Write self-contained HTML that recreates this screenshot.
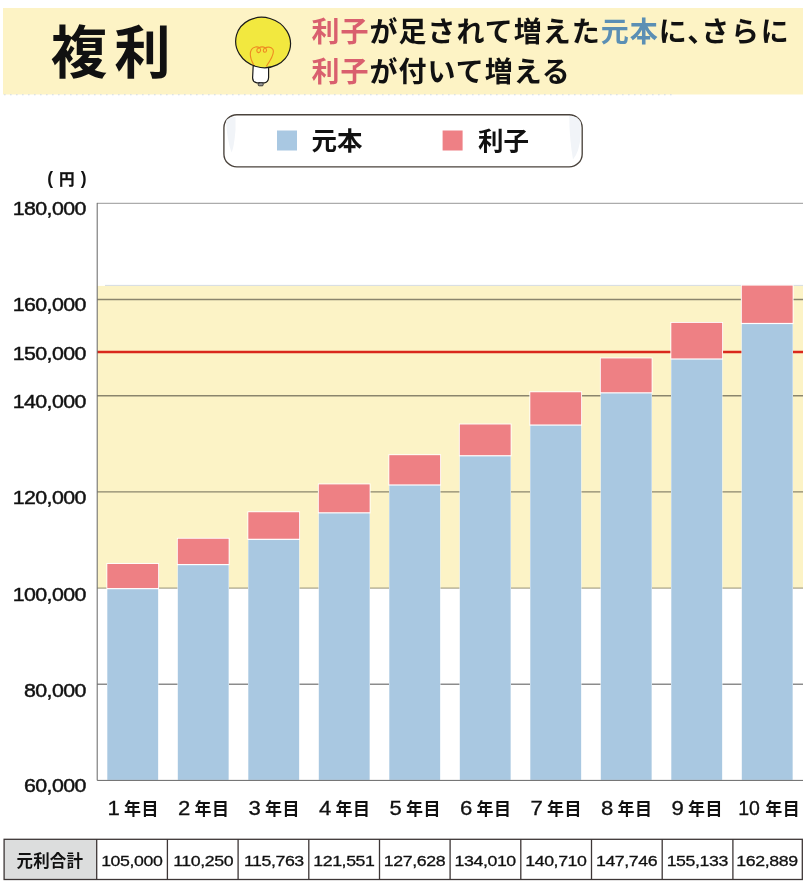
<!DOCTYPE html>
<html lang="ja"><head><meta charset="utf-8"><title>複利</title>
<style>html,body{margin:0;padding:0;background:#fff}svg{display:block;will-change:transform}text{font-family:"Liberation Sans","Noto Sans CJK JP",sans-serif;fill:#111}.b{font-weight:700}.m{font-weight:500}</style></head><body>
<svg width="807" height="891" viewBox="0 0 807 891">
<rect width="807" height="891" fill="#fff"/>
<rect x="3" y="8" width="800" height="86.5" fill="#FDF3C5"/>
<line x1="4" x2="674" y1="94.8" y2="94.8" stroke="#d3dae2" stroke-width="1.1" stroke-dasharray="1.6 4.4"/>
<text class="b" x="50.7" y="73.2" font-size="56.5" letter-spacing="7" fill="#000">複利</text>
<g stroke-linecap="round" stroke-linejoin="round">
<path d="M253.2 65.6 L252.6 78 Q252.8 82.2 257 82.8 L264.5 82.8 Q268.4 82 268.6 77.5 L268.6 66 Z" fill="#fff" stroke="#1a1a1a" stroke-width="1.2"/>
<rect x="258.2" y="82.8" width="5" height="3" rx="1" fill="#999" stroke="#1a1a1a" stroke-width="0.8"/>
<ellipse cx="263.1" cy="42.5" rx="27.6" ry="25.0" transform="rotate(16 263.1 42.5)" fill="#F2E83F" stroke="#1a1a1a" stroke-width="1.2"/>
<path d="M253.5 64.5 C250 58 249.5 53 251.5 49.5 C253.5 46.5 257.5 46.3 259.5 47.8 C261.5 49.5 260.5 52.8 258.3 52.6 C256.3 52.3 256.3 49 258.3 48.2 C260.5 46.8 263.5 46.6 265.3 48 C267.3 49.6 266.6 52.3 264.8 52.2 C262.8 52 262.8 49 264.8 48.2 C267 46.6 271 46.6 272.8 49.2 C274.8 52.5 272.5 57.5 266.5 66" fill="none" stroke="#EE8A22" stroke-width="1.1"/>
</g>
<text class="b" x="311.5" y="42.0" font-size="28.0" letter-spacing="1.00"><tspan fill="#D95F6E">利子</tspan>が足されて増えた<tspan fill="#5B8FB4">元本</tspan>に</text>
<text class="b" x="687.3" y="42" font-size="28.0">、</text>
<text class="b" x="701.2" y="42" font-size="28.0" letter-spacing="1.8">さらに</text>
<text class="b" x="311.5" y="82.0" font-size="28.0" letter-spacing="1.00"><tspan fill="#D95F6E">利子</tspan>が付いて増える</text>
<rect x="223.9" y="114.7" width="358.3" height="52.2" rx="13" ry="13" fill="#fff" stroke="#4a433c" stroke-width="1.35"/>
<path d="M226 121 Q229 116.5 235.5 117 L235.5 130 Q234 148 231.5 152.5 Q227 140 226 121 Z" fill="#f1f4f8"/>
<path d="M569.2 116 Q577.5 115.5 580.7 122 L580.7 135 Q579.5 152 573 159.5 Q569.5 140 569.2 116 Z" fill="#f1f4f8"/>
<rect x="277" y="130.5" width="20" height="20" fill="#A9C8E2"/>
<text class="b" x="311.5" y="150" font-size="25.5">元本</text>
<rect x="442.6" y="130.5" width="20" height="20" fill="#EE8085"/>
<text class="b" x="478" y="150" font-size="25.5">利子</text>
<rect x="97.2" y="285.9" width="705.8" height="302.1" fill="#FCF3C6"/>
<line x1="105" x2="803.0" y1="285.4" y2="285.4" stroke="#c3cbd6" stroke-width="0.7"/>
<line x1="97.2" x2="803.0" y1="588.1" y2="588.1" stroke="#8a8468" stroke-width="0.9"/>
<line x1="97.2" x2="803.0" y1="299.5" y2="299.5" stroke="#000" stroke-opacity="0.45" stroke-width="1.35"/>
<line x1="97.2" x2="803.0" y1="395.7" y2="395.7" stroke="#000" stroke-opacity="0.45" stroke-width="1.35"/>
<line x1="97.2" x2="803.0" y1="491.9" y2="491.9" stroke="#000" stroke-opacity="0.45" stroke-width="1.35"/>
<line x1="97.2" x2="803.0" y1="684.2" y2="684.2" stroke="#000" stroke-opacity="0.45" stroke-width="1.35"/>
<line x1="97.2" x2="803.0" y1="352" y2="352" stroke="#D9281C" stroke-width="2.6"/>
<line x1="97.2" x2="803.0" y1="203.3" y2="203.3" stroke="#8c8c8c" stroke-width="0.9"/>
<line x1="97.2" x2="97.2" y1="202.9" y2="780.4" stroke="#666" stroke-width="1"/>
<rect x="106.40" y="563.09" width="52.65" height="26.15" fill="#fff"/>
<rect x="107.00" y="588.03" width="51.45" height="191.87" fill="#fff"/>
<rect x="107.30" y="589.23" width="50.85" height="190.67" fill="#A9C8E1"/>
<rect x="107.30" y="563.99" width="50.85" height="24.05" fill="#EE8084"/>
<rect x="176.90" y="537.84" width="52.65" height="27.35" fill="#fff"/>
<rect x="177.50" y="563.99" width="51.45" height="215.91" fill="#fff"/>
<rect x="177.80" y="565.19" width="50.85" height="214.71" fill="#A9C8E1"/>
<rect x="177.80" y="538.74" width="50.85" height="25.25" fill="#EE8084"/>
<rect x="247.40" y="511.33" width="52.65" height="28.61" fill="#fff"/>
<rect x="248.00" y="538.74" width="51.45" height="241.16" fill="#fff"/>
<rect x="248.30" y="539.94" width="50.85" height="239.96" fill="#A9C8E1"/>
<rect x="248.30" y="512.23" width="50.85" height="26.51" fill="#EE8084"/>
<rect x="317.90" y="483.49" width="52.65" height="29.94" fill="#fff"/>
<rect x="318.50" y="512.23" width="51.45" height="267.67" fill="#fff"/>
<rect x="318.80" y="513.43" width="50.85" height="266.47" fill="#A9C8E1"/>
<rect x="318.80" y="484.39" width="50.85" height="27.84" fill="#EE8084"/>
<rect x="388.40" y="454.27" width="52.65" height="31.33" fill="#fff"/>
<rect x="389.00" y="484.39" width="51.45" height="295.51" fill="#fff"/>
<rect x="389.30" y="485.59" width="50.85" height="294.31" fill="#A9C8E1"/>
<rect x="389.30" y="455.17" width="50.85" height="29.23" fill="#EE8084"/>
<rect x="458.90" y="423.57" width="52.65" height="32.79" fill="#fff"/>
<rect x="459.50" y="455.17" width="51.45" height="324.73" fill="#fff"/>
<rect x="459.80" y="456.37" width="50.85" height="323.53" fill="#A9C8E1"/>
<rect x="459.80" y="424.47" width="50.85" height="30.69" fill="#EE8084"/>
<rect x="529.40" y="391.35" width="52.65" height="34.32" fill="#fff"/>
<rect x="530.00" y="424.47" width="51.45" height="355.43" fill="#fff"/>
<rect x="530.30" y="425.67" width="50.85" height="354.23" fill="#A9C8E1"/>
<rect x="530.30" y="392.25" width="50.85" height="32.22" fill="#EE8084"/>
<rect x="599.90" y="357.51" width="52.65" height="35.94" fill="#fff"/>
<rect x="600.50" y="392.25" width="51.45" height="387.65" fill="#fff"/>
<rect x="600.80" y="393.45" width="50.85" height="386.45" fill="#A9C8E1"/>
<rect x="600.80" y="358.41" width="50.85" height="33.84" fill="#EE8084"/>
<rect x="670.40" y="321.99" width="52.65" height="37.63" fill="#fff"/>
<rect x="671.00" y="358.41" width="51.45" height="421.49" fill="#fff"/>
<rect x="671.30" y="359.61" width="50.85" height="420.29" fill="#A9C8E1"/>
<rect x="671.30" y="322.89" width="50.85" height="35.53" fill="#EE8084"/>
<rect x="740.90" y="284.69" width="52.65" height="39.40" fill="#fff"/>
<rect x="741.50" y="322.89" width="51.45" height="457.01" fill="#fff"/>
<rect x="741.80" y="324.09" width="50.85" height="455.81" fill="#A9C8E1"/>
<rect x="741.80" y="285.59" width="50.85" height="37.30" fill="#EE8084"/>
<line x1="97.2" x2="803.0" y1="780.4" y2="780.4" stroke="#666" stroke-width="1"/>
<text transform="translate(85.7 215.0) scale(1.125 1)" text-anchor="end" font-size="19.0" letter-spacing="-0.55" stroke="#111" stroke-width="0.45">180,000</text>
<text transform="translate(85.7 311.4) scale(1.125 1)" text-anchor="end" font-size="19.0" letter-spacing="-0.55" stroke="#111" stroke-width="0.45">160,000</text>
<text transform="translate(85.7 360.0) scale(1.125 1)" text-anchor="end" font-size="19.0" letter-spacing="-0.55" stroke="#111" stroke-width="0.45">150,000</text>
<text transform="translate(85.7 408.2) scale(1.125 1)" text-anchor="end" font-size="19.0" letter-spacing="-0.55" stroke="#111" stroke-width="0.45">140,000</text>
<text transform="translate(85.7 503.9) scale(1.125 1)" text-anchor="end" font-size="19.0" letter-spacing="-0.55" stroke="#111" stroke-width="0.45">120,000</text>
<text transform="translate(85.7 600.5) scale(1.125 1)" text-anchor="end" font-size="19.0" letter-spacing="-0.55" stroke="#111" stroke-width="0.45">100,000</text>
<text transform="translate(85.7 696.6) scale(1.125 1)" text-anchor="end" font-size="19.0" letter-spacing="-0.55" stroke="#111" stroke-width="0.45">80,000</text>
<text transform="translate(85.7 792.0) scale(1.125 1)" text-anchor="end" font-size="19.0" letter-spacing="-0.55" stroke="#111" stroke-width="0.45">60,000</text>
<text class="b" x="59" y="185" font-size="15.5" stroke="#111" stroke-width="0.3">円</text>
<text class="b" x="47.3" y="184.3" font-size="17.5">(</text><text class="b" x="80.8" y="184.3" font-size="17.5">)</text>
<text transform="translate(113.7 814.6) scale(1.137 1)" text-anchor="middle" font-size="19.5" stroke="#111" stroke-width="0.3">1</text>
<text class="b" x="124.1" y="814.6" font-size="17" letter-spacing="0.5">年目</text>
<text transform="translate(184.2 814.6) scale(1.137 1)" text-anchor="middle" font-size="19.5" stroke="#111" stroke-width="0.3">2</text>
<text class="b" x="194.6" y="814.6" font-size="17" letter-spacing="0.5">年目</text>
<text transform="translate(254.7 814.6) scale(1.137 1)" text-anchor="middle" font-size="19.5" stroke="#111" stroke-width="0.3">3</text>
<text class="b" x="265.1" y="814.6" font-size="17" letter-spacing="0.5">年目</text>
<text transform="translate(325.2 814.6) scale(1.137 1)" text-anchor="middle" font-size="19.5" stroke="#111" stroke-width="0.3">4</text>
<text class="b" x="335.6" y="814.6" font-size="17" letter-spacing="0.5">年目</text>
<text transform="translate(395.7 814.6) scale(1.137 1)" text-anchor="middle" font-size="19.5" stroke="#111" stroke-width="0.3">5</text>
<text class="b" x="406.1" y="814.6" font-size="17" letter-spacing="0.5">年目</text>
<text transform="translate(466.2 814.6) scale(1.137 1)" text-anchor="middle" font-size="19.5" stroke="#111" stroke-width="0.3">6</text>
<text class="b" x="476.6" y="814.6" font-size="17" letter-spacing="0.5">年目</text>
<text transform="translate(536.7 814.6) scale(1.137 1)" text-anchor="middle" font-size="19.5" stroke="#111" stroke-width="0.3">7</text>
<text class="b" x="547.1" y="814.6" font-size="17" letter-spacing="0.5">年目</text>
<text transform="translate(607.2 814.6) scale(1.137 1)" text-anchor="middle" font-size="19.5" stroke="#111" stroke-width="0.3">8</text>
<text class="b" x="617.6" y="814.6" font-size="17" letter-spacing="0.5">年目</text>
<text transform="translate(677.7 814.6) scale(1.137 1)" text-anchor="middle" font-size="19.5" stroke="#111" stroke-width="0.3">9</text>
<text class="b" x="688.1" y="814.6" font-size="17" letter-spacing="0.5">年目</text>
<text transform="translate(749.0 814.6) scale(1.0 1)" text-anchor="middle" font-size="19.5" stroke="#111" stroke-width="0.3">10</text>
<text class="b" x="765.3" y="814.6" font-size="17" letter-spacing="0.5">年目</text>
<rect x="4.1" y="839.3" width="92.6" height="40.2" fill="#DCDDDD"/>
<rect x="4.1" y="839.3" width="798.2" height="40.2" fill="none" stroke="#3d3636" stroke-width="1.3"/>
<line x1="96.7" x2="96.7" y1="839.3" y2="879.5" stroke="#3d3636" stroke-width="1.3"/>
<line x1="167.4" x2="167.4" y1="839.3" y2="879.5" stroke="#3d3636" stroke-width="1.3"/>
<line x1="238.1" x2="238.1" y1="839.3" y2="879.5" stroke="#3d3636" stroke-width="1.3"/>
<line x1="308.8" x2="308.8" y1="839.3" y2="879.5" stroke="#3d3636" stroke-width="1.3"/>
<line x1="379.5" x2="379.5" y1="839.3" y2="879.5" stroke="#3d3636" stroke-width="1.3"/>
<line x1="450.1" x2="450.1" y1="839.3" y2="879.5" stroke="#3d3636" stroke-width="1.3"/>
<line x1="520.8" x2="520.8" y1="839.3" y2="879.5" stroke="#3d3636" stroke-width="1.3"/>
<line x1="591.5" x2="591.5" y1="839.3" y2="879.5" stroke="#3d3636" stroke-width="1.3"/>
<line x1="662.2" x2="662.2" y1="839.3" y2="879.5" stroke="#3d3636" stroke-width="1.3"/>
<line x1="732.9" x2="732.9" y1="839.3" y2="879.5" stroke="#3d3636" stroke-width="1.3"/>
<text class="b" x="16.5" y="866.5" font-size="16.5" letter-spacing="0.15">元利合計</text>
<text transform="translate(162.4 865.7) scale(1.160 1)" text-anchor="end" font-size="15.3" letter-spacing="-0.35" stroke="#111" stroke-width="0.30">105,000</text>
<text transform="translate(233.1 865.7) scale(1.160 1)" text-anchor="end" font-size="15.3" letter-spacing="-0.35" stroke="#111" stroke-width="0.30">110,250</text>
<text transform="translate(303.8 865.7) scale(1.160 1)" text-anchor="end" font-size="15.3" letter-spacing="-0.35" stroke="#111" stroke-width="0.30">115,763</text>
<text transform="translate(374.5 865.7) scale(1.160 1)" text-anchor="end" font-size="15.3" letter-spacing="-0.35" stroke="#111" stroke-width="0.30">121,551</text>
<text transform="translate(445.1 865.7) scale(1.160 1)" text-anchor="end" font-size="15.3" letter-spacing="-0.35" stroke="#111" stroke-width="0.30">127,628</text>
<text transform="translate(515.8 865.7) scale(1.160 1)" text-anchor="end" font-size="15.3" letter-spacing="-0.35" stroke="#111" stroke-width="0.30">134,010</text>
<text transform="translate(586.5 865.7) scale(1.160 1)" text-anchor="end" font-size="15.3" letter-spacing="-0.35" stroke="#111" stroke-width="0.30">140,710</text>
<text transform="translate(657.2 865.7) scale(1.160 1)" text-anchor="end" font-size="15.3" letter-spacing="-0.35" stroke="#111" stroke-width="0.30">147,746</text>
<text transform="translate(727.9 865.7) scale(1.160 1)" text-anchor="end" font-size="15.3" letter-spacing="-0.35" stroke="#111" stroke-width="0.30">155,133</text>
<text transform="translate(797.6 865.7) scale(1.160 1)" text-anchor="end" font-size="15.3" letter-spacing="-0.35" stroke="#111" stroke-width="0.30">162,889</text>
</svg></body></html>
